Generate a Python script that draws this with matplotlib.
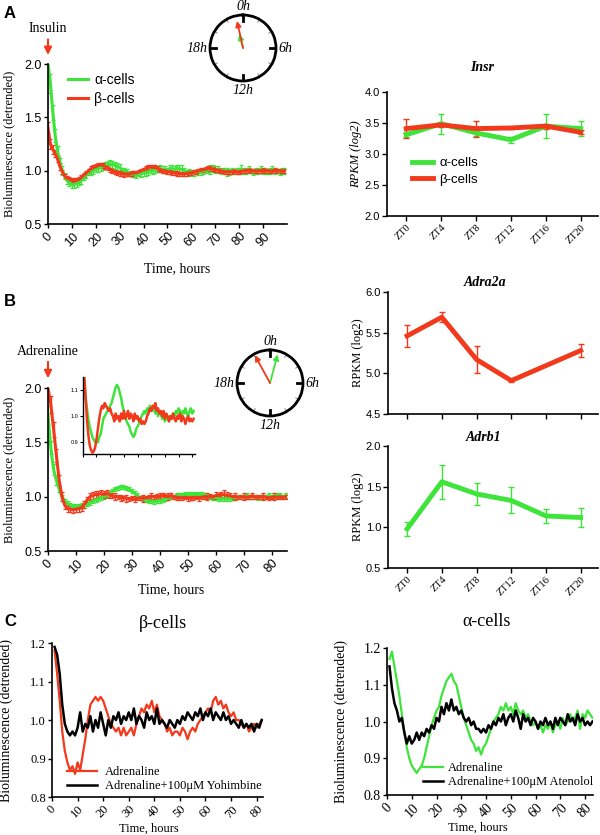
import numpy as np
import matplotlib
matplotlib.use('Agg')
import matplotlib.pyplot as plt

SANS = 'Liberation Sans'
SERIF = 'Liberation Serif'
green = '#3ee43a'
red = '#f2391c'

# ---------------- panel A: insulin ----------------
t_A = np.arange(0, 100)
alpha_A = [2.00, 1.82, 1.55, 1.33, 1.18, 1.08, 1.00, 0.95, 0.91, 0.89,
           0.87, 0.87, 0.88, 0.89, 0.91, 0.94, 0.96, 0.98, 0.99, 1.00,
           1.01, 1.02, 1.03, 1.04, 1.05, 1.06, 1.06, 1.06, 1.05, 1.04,
           1.03, 1.01, 1.00, 0.99, 0.98, 0.97, 0.97, 0.96, 0.97, 0.97,
           0.98, 0.98, 0.99, 1.00, 1.00, 1.01, 1.01, 1.02, 1.01, 1.01,
           1.01, 1.02, 1.02, 1.01, 1.02, 1.02, 1.01, 1.00, 0.99, 0.99,
           0.98, 0.98, 0.99, 0.99, 0.99, 1.00, 1.00, 1.01, 1.01, 1.02,
           1.01, 1.01, 1.00, 1.00, 1.00, 0.99, 0.99, 1.00, 0.99, 1.00,
           1.00, 1.01, 1.00, 1.00, 1.01, 1.00, 0.99, 1.00, 1.00, 1.01,
           1.00, 1.00, 0.99, 1.00, 1.01, 1.00, 1.00, 0.99, 1.00, 1.00]
err_alpha_A = [0.10, 0.09, 0.07, 0.06, 0.05, 0.04, 0.04, 0.03, 0.03, 0.03,
               0.03, 0.03, 0.03, 0.02, 0.03, 0.03, 0.03, 0.02, 0.03, 0.03,
               0.02, 0.03, 0.03, 0.03, 0.03, 0.03, 0.04, 0.03, 0.03, 0.03,
               0.03, 0.02, 0.03, 0.03, 0.02, 0.03, 0.03, 0.03, 0.02, 0.03,
               0.03, 0.03, 0.03, 0.02, 0.03, 0.03, 0.02, 0.03, 0.03, 0.03,
               0.02, 0.03, 0.03, 0.03, 0.03, 0.03, 0.04, 0.03, 0.02, 0.03,
               0.03, 0.03, 0.02, 0.03, 0.03, 0.03, 0.02, 0.03, 0.04, 0.03,
               0.03, 0.03, 0.02, 0.03, 0.03, 0.04, 0.03, 0.03, 0.02, 0.03,
               0.03, 0.04, 0.03, 0.03, 0.03, 0.02, 0.03, 0.03, 0.03, 0.03,
               0.03, 0.03, 0.02, 0.03, 0.03, 0.03, 0.02, 0.03, 0.03, 0.03]
beta_A = [1.40, 1.25, 1.20, 1.16, 1.11, 1.04, 0.99, 0.95, 0.93, 0.92,
          0.91, 0.91, 0.91, 0.92, 0.94, 0.96, 0.98, 1.00, 1.02, 1.03,
          1.04, 1.05, 1.055, 1.05, 1.04, 1.03, 1.01, 1.00, 0.99, 0.98,
          0.975, 0.97, 0.97, 0.97, 0.97, 0.975, 0.98, 0.98, 0.99, 1.00,
          1.01, 1.02, 1.03, 1.035, 1.035, 1.03, 1.02, 1.01, 1.00, 1.00,
          0.99, 0.99, 0.98, 0.98, 0.975, 0.97, 0.97, 0.97, 0.975, 0.98,
          0.98, 0.985, 0.99, 1.00, 1.005, 1.01, 1.015, 1.02, 1.02, 1.015,
          1.01, 1.005, 1.00, 0.995, 0.99, 0.99, 0.99, 0.99, 0.995, 0.99,
          0.99, 0.995, 1.00, 1.00, 1.005, 1.00, 1.00, 0.995, 1.00, 1.00,
          1.005, 1.00, 1.00, 0.995, 1.00, 1.005, 1.00, 1.00, 0.995, 1.00]
err_beta_A = [0.06, 0.05, 0.04, 0.03, 0.03, 0.03, 0.02, 0.02, 0.02, 0.02,
              0.02, 0.02, 0.02, 0.02, 0.02, 0.02, 0.02, 0.02, 0.02, 0.02,
              0.02, 0.02, 0.02, 0.02, 0.02, 0.02, 0.02, 0.02, 0.02, 0.02,
              0.02, 0.02, 0.03, 0.02, 0.02, 0.02, 0.02, 0.02, 0.02, 0.02,
              0.02, 0.02, 0.02, 0.02, 0.02, 0.02, 0.02, 0.02, 0.02, 0.02,
              0.02, 0.02, 0.02, 0.02, 0.02, 0.02, 0.02, 0.02, 0.02, 0.02,
              0.02, 0.02, 0.02, 0.02, 0.02, 0.02, 0.02, 0.02, 0.02, 0.02,
              0.02, 0.02, 0.02, 0.02, 0.02, 0.02, 0.02, 0.02, 0.02, 0.02,
              0.02, 0.02, 0.02, 0.02, 0.02, 0.02, 0.02, 0.02, 0.02, 0.02,
              0.02, 0.02, 0.02, 0.02, 0.02, 0.02, 0.02, 0.02, 0.02, 0.02]

# clock phases (hours) and vector lengths
clockA_phase = [-1.0, -0.83]
clockA_len = [0.44, 0.84]
clockB_phase = [1.0, -1.9]
clockB_len = [0.90, 0.96]
clock_hours = ['0h', '6h', '12h', '18h']

# RPKM profiles
zt_labels = ['ZT0', 'ZT4', 'ZT8', 'ZT12', 'ZT16', 'ZT20']
zt_pos = [0, 1, 2, 3, 4, 5]
insr_alpha = [3.31, 3.49, 3.34, 3.23, 3.45, 3.41]
insr_alpha_err = [0.04, 0.16, 0.05, 0.05, 0.19, 0.12]
insr_beta = [3.41, 3.47, 3.41, 3.42, 3.45, 3.35]
insr_beta_err = [0.15, 0.03, 0.13, 0.02, 0.04, 0.03]
adra2a_pos = [0, 1, 2, 3, 5]
adra2a = [5.46, 5.69, 5.17, 4.91, 5.28]
adra2a_err = [0.14, 0.06, 0.17, 0.02, 0.08]
adrb1 = [0.98, 1.56, 1.41, 1.33, 1.14, 1.12]
adrb1_err = [0.09, 0.21, 0.13, 0.16, 0.09, 0.12]

# ---------------- panel B: adrenaline ----------------
t_B = np.arange(0, 86)
alpha_B = [1.75, 1.45, 1.25, 1.15, 1.07, 1.00, 0.96, 0.94, 0.92, 0.91,
           0.91, 0.91, 0.92, 0.92, 0.93, 0.94, 0.96, 0.97, 0.98, 0.99,
           1.00, 1.01, 1.03, 1.05, 1.07, 1.08, 1.09, 1.09, 1.08, 1.07,
           1.05, 1.03, 1.01, 0.99, 0.98, 0.97, 0.96, 0.96, 0.955, 0.96,
           0.96, 0.97, 0.98, 0.99, 1.00, 1.00, 1.01, 1.01, 1.01, 1.02,
           1.02, 1.02, 1.02, 1.02, 1.02, 1.02, 1.01, 1.01, 1.00, 0.99,
           0.99, 0.98, 0.98, 0.98, 0.98, 0.98, 0.99, 0.99, 1.00, 1.00,
           1.00, 1.01, 1.00, 1.00, 1.00, 0.99, 1.00, 1.00, 1.00, 1.01,
           1.00, 1.01, 1.01, 1.01, 1.00, 1.01]
err_alpha_B = [0.08, 0.06, 0.05, 0.04, 0.03, 0.02, 0.02, 0.02, 0.02, 0.02,
               0.02, 0.02, 0.02, 0.02, 0.02, 0.02, 0.02, 0.02, 0.02, 0.02,
               0.02, 0.02, 0.02, 0.02, 0.02, 0.02, 0.02, 0.02, 0.02, 0.02,
               0.02, 0.02, 0.02, 0.02, 0.02, 0.02, 0.02, 0.02, 0.02, 0.02,
               0.02, 0.02, 0.02, 0.02, 0.02, 0.02, 0.02, 0.02, 0.02, 0.02,
               0.02, 0.02, 0.02, 0.02, 0.02, 0.02, 0.02, 0.02, 0.02, 0.02,
               0.02, 0.02, 0.02, 0.02, 0.02, 0.02, 0.02, 0.02, 0.02, 0.02,
               0.02, 0.02, 0.02, 0.02, 0.02, 0.02, 0.02, 0.02, 0.02, 0.02,
               0.02, 0.02, 0.02, 0.02, 0.02, 0.02]
beta_B = [2.00, 1.85, 1.62, 1.38, 1.15, 1.00, 0.92, 0.89, 0.885, 0.88,
          0.885, 0.89, 0.90, 0.93, 0.97, 1.00, 1.01, 1.02, 1.02, 1.03,
          1.02, 1.03, 1.02, 1.01, 1.00, 1.00, 0.99, 0.99, 0.985, 0.98,
          0.985, 0.98, 0.985, 0.99, 0.985, 0.99, 0.995, 1.00, 1.00, 1.005,
          1.00, 1.01, 1.005, 1.00, 1.01, 1.00, 0.995, 0.99, 0.99, 0.995,
          0.99, 0.985, 0.99, 0.995, 0.99, 0.995, 1.00, 1.00, 1.005, 1.00,
          1.01, 1.01, 1.015, 1.02, 1.01, 1.01, 1.00, 1.00, 0.995, 1.00,
          1.00, 0.995, 1.00, 1.005, 1.00, 0.995, 1.00, 1.00, 0.995, 0.99,
          0.995, 1.00, 0.995, 1.00, 0.995, 1.00]
err_beta_B = [0.10, 0.08, 0.07, 0.06, 0.05, 0.04, 0.03, 0.03, 0.03, 0.03,
              0.03, 0.03, 0.03, 0.03, 0.03, 0.03, 0.03, 0.03, 0.03, 0.03,
              0.03, 0.03, 0.03, 0.02, 0.03, 0.02, 0.03, 0.02, 0.03, 0.02,
              0.02, 0.03, 0.02, 0.02, 0.03, 0.02, 0.02, 0.03, 0.02, 0.02,
              0.03, 0.02, 0.02, 0.03, 0.02, 0.02, 0.03, 0.02, 0.02, 0.02,
              0.03, 0.02, 0.02, 0.02, 0.03, 0.02, 0.02, 0.03, 0.02, 0.02,
              0.03, 0.02, 0.03, 0.04, 0.03, 0.02, 0.02, 0.03, 0.02, 0.02,
              0.03, 0.02, 0.02, 0.03, 0.02, 0.02, 0.02, 0.03, 0.02, 0.02,
              0.02, 0.03, 0.02, 0.02, 0.02, 0.02]

# inset of B
t_inset = np.arange(0, 82)
alpha_inset = [1.20, 1.14, 1.07, 1.03, 0.99, 0.96, 0.94, 0.92, 0.91, 0.90,
               0.91, 0.90, 0.92, 0.93, 0.96, 0.99, 1.00, 1.01, 1.02, 1.03,
               1.04, 1.05, 1.07, 1.09, 1.11, 1.12, 1.11, 1.09, 1.07, 1.04,
               1.02, 1.00, 0.98, 0.97, 0.96, 0.94, 0.93, 0.92, 0.93, 0.95,
               0.96, 0.97, 0.99, 1.00, 1.01, 1.02, 1.01, 1.03, 1.02, 1.04,
               1.03, 1.02, 1.04, 1.01, 1.02, 1.00, 1.02, 1.01, 0.99, 1.00,
               0.98, 1.00, 0.99, 0.98, 1.00, 0.99, 1.01, 1.00, 1.02, 1.01,
               1.03, 1.02, 1.00, 1.02, 1.01, 1.03, 1.01, 1.00, 1.02, 1.03,
               1.01, 1.02]
beta_inset = [1.22, 1.16, 1.08, 0.99, 0.93, 0.89, 0.87, 0.86, 0.865, 0.88,
              0.91, 0.95, 0.99, 1.02, 1.04, 1.03, 1.05, 1.04, 1.03, 1.02,
              1.03, 1.01, 1.00, 0.98, 1.01, 0.99, 1.00, 0.98, 1.01, 0.99,
              1.02, 0.99, 1.00, 1.02, 0.99, 1.01, 1.00, 0.98, 1.01, 0.99,
              1.00, 0.98, 0.99, 0.97, 0.98, 0.97, 0.98, 1.00, 1.01, 1.03,
              1.02, 1.04, 1.03, 1.05, 1.02, 1.03, 1.01, 1.02, 1.00, 1.02,
              0.99, 1.01, 1.00, 0.98, 1.00, 0.99, 1.01, 0.99, 0.98, 1.00,
              0.99, 1.01, 0.98, 1.00, 0.99, 0.97, 0.99, 1.00, 0.98, 0.99,
              0.98, 0.99]

# ---------------- panel C ----------------
t_Cb = np.arange(1, 83)
beta_adr = [1.18, 1.12, 1.05, 0.97, 0.92, 0.89, 0.87, 0.88, 0.86, 0.89,
            0.87, 0.91, 0.95, 1.00, 1.04, 1.05, 1.06, 1.05, 1.06, 1.05,
            1.03, 1.01, 0.99, 0.98, 0.97, 0.98, 0.96, 0.98, 0.96, 0.97,
            0.98, 0.96, 0.99, 1.01, 1.03, 1.02, 1.04, 1.03, 1.05, 1.02,
            1.04, 1.01, 1.00, 0.99, 0.97, 0.98, 0.96, 0.97, 0.97, 0.96,
            0.98, 0.97, 0.95, 0.97, 0.98, 0.97, 0.99, 1.00, 1.01, 1.02,
            1.03, 1.02, 1.05, 1.06, 1.04, 1.05, 1.03, 1.04, 1.02, 1.01,
            1.02, 1.00, 1.00, 0.99, 0.98, 0.99, 0.97, 0.98, 0.99, 0.98,
            0.99, 1.00]
beta_yoh = [1.19, 1.17, 1.12, 1.04, 0.99, 0.97, 0.96, 0.97, 0.96, 0.98,
            1.02, 0.97, 0.99, 0.98, 1.01, 0.97, 1.00, 0.98, 1.02, 0.99,
            0.96, 1.00, 0.98, 1.01, 1.00, 1.02, 0.99, 1.01, 1.00, 1.02,
            1.00, 1.03, 0.99, 1.01, 1.00, 0.98, 1.02, 1.00, 1.01, 0.99,
            1.03, 0.99, 1.00, 0.99, 0.98, 1.00, 0.99, 0.98, 1.00, 0.99,
            1.01, 1.00, 1.02, 1.01, 1.00, 1.02, 1.01, 1.03, 1.00, 1.02,
            1.01, 1.03, 1.00, 1.02, 1.01, 1.00, 1.02, 1.00, 1.01, 0.99,
            1.00, 0.99, 0.98, 1.00, 0.98, 0.99, 0.98, 0.99, 0.97, 0.99,
            0.98, 1.00]
t_Ca = np.arange(1, 84)
alpha_adr = [1.17, 1.19, 1.15, 1.11, 1.07, 1.02, 0.97, 0.93, 0.90, 0.88,
             0.87, 0.86, 0.87, 0.88, 0.90, 0.93, 0.96, 0.99, 1.01, 1.03,
             1.04, 1.07, 1.09, 1.11, 1.12, 1.13, 1.11, 1.10, 1.07, 1.04,
             1.01, 0.99, 0.97, 0.95, 0.94, 0.92, 0.93, 0.91, 0.93, 0.94,
             0.96, 0.98, 1.00, 1.01, 1.02, 1.04, 1.03, 1.05, 1.03, 1.04,
             1.02, 1.05, 1.03, 1.02, 1.03, 1.01, 1.02, 1.00, 0.99, 1.00,
             0.98, 0.99, 0.97, 0.99, 0.98, 1.00, 0.97, 0.99, 1.00, 0.98,
             1.01, 0.99, 1.00, 1.02, 1.00, 1.01, 1.03, 0.98, 1.02, 1.01,
             1.03, 1.02, 1.01]
alpha_ate = [1.15, 1.09, 1.05, 1.03, 1.00, 1.01, 0.97, 0.94, 0.96, 0.94,
             0.95, 0.97, 0.95, 0.97, 0.96, 0.98, 0.97, 0.99, 0.98, 1.01,
             1.00, 1.04, 1.02, 1.05, 1.03, 1.06, 1.03, 1.04, 1.02, 1.03,
             1.01, 1.00, 1.01, 0.99, 1.00, 0.98, 0.98, 0.97, 0.98, 0.97,
             0.99, 0.98, 1.00, 0.99, 1.01, 1.00, 1.02, 0.99, 1.01, 1.02,
             1.00, 1.03, 1.01, 0.98, 1.02, 1.00, 1.01, 0.99, 1.01, 1.00,
             0.98, 1.00, 0.99, 1.01, 0.99, 1.00, 0.98, 1.01, 0.99, 1.01,
             1.00, 0.99, 1.02, 1.00, 1.01, 0.99, 1.02, 1.00, 1.01, 0.99,
             1.00, 0.99, 1.00]

fig = plt.figure(figsize=(6, 8.35), dpi=100)


def clean(ax, lw=1.2):
    ax.spines['top'].set_visible(False)
    ax.spines['right'].set_visible(False)
    ax.spines['left'].set_linewidth(lw)
    ax.spines['bottom'].set_linewidth(lw)


def trace_axes(rect, xmax, xticks, ylim, yticks, font, size):
    ax = fig.add_axes(rect)
    clean(ax)
    ax.set_xlim(0, xmax)
    ax.set_ylim(*ylim)
    ax.set_xticks(xticks)
    ax.set_xticklabels([str(v) for v in xticks], rotation=45, ha='center', va='top',
                       fontfamily=font, fontsize=size)
    ax.set_yticks(yticks)
    ax.set_yticklabels(['%.1f' % v for v in yticks], fontfamily=font, fontsize=size)
    ax.tick_params(length=3, width=1, pad=1.5)
    return ax


def clock(rect, phases, lengths, colors):
    ax = fig.add_axes(rect, projection='polar')
    ax.set_theta_zero_location('N')
    ax.set_theta_direction(-1)
    ax.set_ylim(0, 1)
    ax.set_yticks([])
    ax.set_xticks([])
    ax.grid(False)
    ax.spines['polar'].set_linewidth(2)
    for h in range(0, 24, 2):
        th = np.deg2rad(h * 15)
        if h % 6 == 0:
            ax.plot([th, th], [0.82, 1], color='black', lw=2)
        else:
            ax.plot([th, th], [0.9, 1], color='0.55', lw=0.7)
    txt = dict(fontfamily=SERIF, fontstyle='italic', fontsize=10, clip_on=False)
    ax.text(0, 1.06, clock_hours[0], ha='center', va='bottom', **txt)
    ax.text(np.pi / 2, 1.08, clock_hours[1], ha='left', va='center', **txt)
    ax.text(np.pi, 1.08, clock_hours[2], ha='center', va='top', **txt)
    ax.text(1.5 * np.pi, 1.08, clock_hours[3], ha='right', va='center', **txt)
    for ph, ln, c in zip(phases, lengths, colors):
        ax.annotate('', xy=(np.deg2rad(ph * 15), ln), xytext=(0, 0),
                    arrowprops=dict(arrowstyle='-|>', color=c, lw=1.3, mutation_scale=8,
                                    shrinkA=0, shrinkB=0))
    return ax


def rpkm_axes(rect, ylim, yticks):
    ax = fig.add_axes(rect)
    clean(ax)
    ax.set_xlim(-0.55, 5.5)
    ax.set_ylim(*ylim)
    ax.set_yticks(yticks)
    ax.set_yticklabels(['%.1f' % v for v in yticks], fontfamily=SANS, fontsize=8)
    ax.set_xticks(zt_pos)
    ax.tick_params(length=3.5, width=1, pad=1.5)
    return ax


def zt_labels_on(ax):
    ax.set_xticklabels(zt_labels, rotation=45, ha='right', rotation_mode='anchor',
                       fontfamily=SERIF, fontsize=7.5)


# ---------- A: trace ----------
axA = trace_axes([0.08, 0.7317, 0.398, 0.1916], 100, range(0, 100, 10),
                 (0.5, 2.0), [0.5, 1.0, 1.5, 2.0], SANS, 9)
axA.errorbar(t_A, alpha_A, yerr=err_alpha_A, color=green, lw=2.2, elinewidth=0.9,
             capsize=1.5, capthick=0.9, label='α-cells')
axA.errorbar(t_A, beta_A, yerr=err_beta_A, color=red, lw=2.2, elinewidth=0.9,
             capsize=1.5, capthick=0.9, label='β-cells')
axA.set_ylabel('Bioluminescence (detrended)', fontfamily=SERIF, fontsize=9)
axA.yaxis.set_label_coords(-0.135, 0.5)
axA.set_xlabel('Time, hours', fontfamily=SERIF, fontsize=10)
axA.xaxis.set_label_coords(0.54, -0.24)
h, l = axA.get_legend_handles_labels()
axA.legend([hh[0] for hh in h], l, loc='upper left', bbox_to_anchor=(0.03, 1.02),
           frameon=False, prop={'family': SANS, 'size': 10}, handlelength=1.5,
           handletextpad=0.4, labelspacing=0.35)
axA.annotate('Insulin', xy=(0, 2.085), xytext=(0, 2.27), ha='center', va='bottom',
             fontfamily=SERIF, fontsize=10, annotation_clip=False,
             arrowprops=dict(arrowstyle='-|>', color=red, lw=1.5, mutation_scale=11,
                             shrinkA=1, shrinkB=0))

clock([(243 - 33) / 600, 1 - (48 + 33) / 835, 66 / 600, 66 / 835],
      clockA_phase, clockA_len, [green, red])

# ---------- A: Insr ----------
axI = rpkm_axes([0.645, 0.7413, 0.352, 0.1485], (2.0, 4.0), [2.0, 2.5, 3.0, 3.5, 4.0])
axI.errorbar(zt_pos, insr_alpha, yerr=insr_alpha_err, color=green, lw=3.5,
             elinewidth=1, capsize=2, capthick=1, label='α-cells')
axI.errorbar(zt_pos, insr_beta, yerr=insr_beta_err, color=red, lw=3.5,
             elinewidth=1, capsize=2, capthick=1, label='β-cells')
zt_labels_on(axI)
axI.set_ylabel('RPKM (log2)', fontfamily=SERIF, fontstyle='italic', fontsize=9)
axI.yaxis.set_label_coords(-0.118, 0.5)
axI.text(0.45, 1.2, 'Insr', transform=axI.transAxes, ha='center', va='center',
         fontfamily=SERIF, fontstyle='italic', fontweight='bold', fontsize=10)
h, l = axI.get_legend_handles_labels()
axI.legend([hh[0] for hh in h], l, loc='center left', bbox_to_anchor=(0.06, 0.36),
           frameon=False, prop={'family': SANS, 'size': 9.5}, handlelength=1.6,
           handletextpad=0.5, labelspacing=0.3)

# ---------- B: trace ----------
axB = trace_axes([0.08, 0.3401, 0.398, 0.1952], 85.4, range(0, 90, 10),
                 (0.5, 2.0), [0.5, 1.0, 1.5, 2.0], SANS, 9)
axB.errorbar(t_B, alpha_B, yerr=err_alpha_B, color=green, lw=2.2, elinewidth=0.9,
             capsize=1.5, capthick=0.9)
axB.errorbar(t_B, beta_B, yerr=err_beta_B, color=red, lw=2.2, elinewidth=0.9,
             capsize=1.5, capthick=0.9)
axB.set_ylabel('Bioluminescence (detrended)', fontfamily=SERIF, fontsize=9)
axB.yaxis.set_label_coords(-0.135, 0.5)
axB.set_xlabel('Time, hours', fontfamily=SERIF, fontsize=10)
axB.xaxis.set_label_coords(0.515, -0.2)
axB.annotate('Adrenaline', xy=(0, 2.09), xytext=(0, 2.28), ha='center', va='bottom',
             fontfamily=SERIF, fontsize=10, annotation_clip=False,
             arrowprops=dict(arrowstyle='-|>', color=red, lw=1.5, mutation_scale=11,
                             shrinkA=1, shrinkB=0))

axIn = fig.add_axes([0.138, 0.4563, 0.187, 0.0922])
clean(axIn, lw=1)
axIn.plot(t_inset, alpha_inset, color=green, lw=1.8)
axIn.plot(t_inset, beta_inset, color=red, lw=1.8)
axIn.set_xlim(0, 82)
axIn.set_ylim(0.855, 1.15)
axIn.set_xticks(range(0, 90, 10))
axIn.set_xticklabels([])
axIn.set_yticks([0.9, 1.0, 1.1])
axIn.set_yticklabels(['0.9', '1.0', '1.1'], fontfamily=SANS, fontsize=4)
axIn.tick_params(length=2, width=0.8, pad=1)

clock([(270 - 33) / 600, 1 - (383 + 33) / 835, 66 / 600, 66 / 835],
      clockB_phase, clockB_len, [green, red])

# ---------- B: Adra2a / Adrb1 ----------
axR1 = rpkm_axes([0.6467, 0.5042, 0.35, 0.1461], (4.5, 6.0), [4.5, 5.0, 5.5, 6.0])
axR1.errorbar(adra2a_pos, adra2a, yerr=adra2a_err, color=red, lw=3.5,
              elinewidth=1, capsize=2, capthick=1)
axR1.set_xticklabels([])
axR1.set_ylabel('RPKM (log2)', fontfamily=SERIF, fontsize=9)
axR1.yaxis.set_label_coords(-0.114, 0.5)
axR1.text(0.46, 1.074, 'Adra2a', transform=axR1.transAxes, ha='center', va='center',
          fontfamily=SERIF, fontstyle='italic', fontweight='bold', fontsize=10)

axR2 = rpkm_axes([0.6467, 0.3198, 0.35, 0.1461], (0.5, 2.0), [0.5, 1.0, 1.5, 2.0])
axR2.errorbar(zt_pos, adrb1, yerr=adrb1_err, color=green, lw=3.5,
              elinewidth=1, capsize=2, capthick=1)
zt_labels_on(axR2)
axR2.set_ylabel('RPKM (log2)', fontfamily=SERIF, fontsize=9)
axR2.yaxis.set_label_coords(-0.114, 0.5)
axR2.text(0.455, 1.066, 'Adrb1', transform=axR2.transAxes, ha='center', va='center',
          fontfamily=SERIF, fontstyle='italic', fontweight='bold', fontsize=10)

# ---------- C ----------
axC1 = trace_axes([0.0867, 0.0455, 0.3517, 0.1844], 82.5, range(0, 90, 10),
                  (0.8, 1.2), [0.8, 0.9, 1.0, 1.1, 1.2], SERIF, 9)
axC1.plot(t_Cb, beta_adr, color=red, lw=1.6, label='Adrenaline')
axC1.plot(t_Cb, beta_yoh, color='black', lw=1.8, label='Adrenaline+100μM Yohimbine')
axC1.set_ylabel('Bioluminescence (detrended)', fontfamily=SERIF, fontsize=10)
axC1.yaxis.set_label_coords(-0.185, 0.5)
axC1.set_xlabel('Time, hours', fontfamily=SERIF, fontsize=9)
axC1.xaxis.set_label_coords(0.46, -0.17)
axC1.legend(loc='lower left', bbox_to_anchor=(0.02, -0.04), frameon=False,
            prop={'family': SERIF, 'size': 9}, handlelength=2.4, handletextpad=0.6,
            labelspacing=0.15)

axC2 = trace_axes([0.645, 0.0479, 0.3433, 0.176], 83.2, range(0, 90, 10),
                  (0.8, 1.2), [0.8, 0.9, 1.0, 1.1, 1.2], SERIF, 10)
axC2.plot(t_Ca, alpha_adr, color=green, lw=1.6, label='Adrenaline')
axC2.plot(t_Ca, alpha_ate, color='black', lw=1.8, label='Adrenaline+100μM Atenolol')
axC2.set_ylabel('Bioluminescence (detrended)', fontfamily=SERIF, fontsize=10)
axC2.yaxis.set_label_coords(-0.19, 0.5)
axC2.set_xlabel('Time, hours', fontfamily=SERIF, fontsize=9)
axC2.xaxis.set_label_coords(0.44, -0.18)
axC2.legend(loc='lower left', bbox_to_anchor=(0.12, -0.03), frameon=False,
            prop={'family': SERIF, 'size': 9}, handlelength=1.6, handletextpad=0.4,
            labelspacing=0.15)

fig.text(163 / 600, 1 - 623 / 835, 'β-cells', ha='center', va='center',
         fontfamily=SERIF, fontsize=13)
fig.text(487 / 600, 1 - 622 / 835, 'α-cells', ha='center', va='center',
         fontfamily=SERIF, fontsize=13)

for lab, y in [('A', 13), ('B', 302), ('C', 621)]:
    fig.text(4 / 600, 1 - y / 835, lab, ha='left', va='center',
             fontfamily=SANS, fontweight='bold', fontsize=12)

fig.savefig('out.png', dpi=100)
